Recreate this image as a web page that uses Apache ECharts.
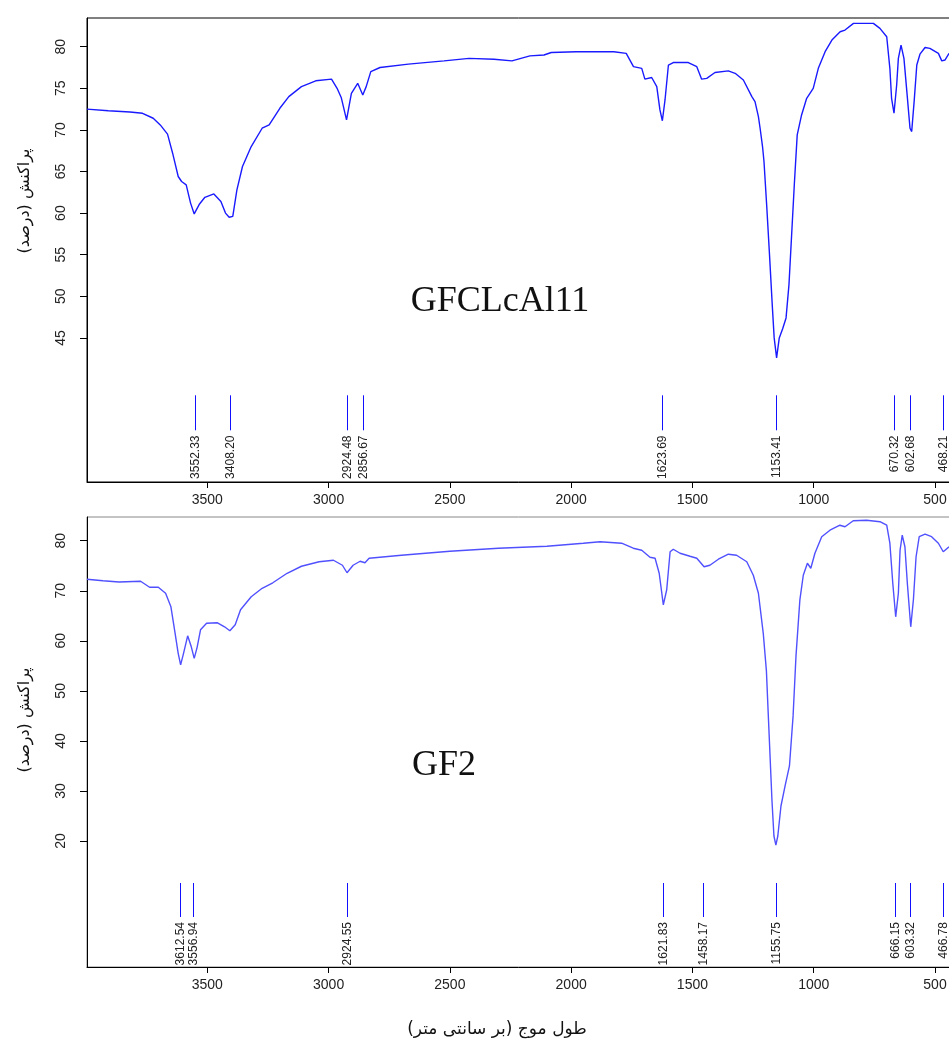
<!DOCTYPE html>
<html><head><meta charset="utf-8">
<script src="https://cdn.jsdelivr.net/npm/echarts@6/dist/echarts.min.js"></script>
<style>html,body{margin:0;padding:0;background:#fff}#c{width:949px;height:1045px}</style>
</head><body><div id="c"></div>
<script>
// ---- data ----
const xTicks = [3500, 3000, 2500, 2000, 1500, 1000, 500];
const topYTicks = [45, 50, 55, 60, 65, 70, 75, 80];
const botYTicks = [20, 30, 40, 50, 60, 70, 80];

const topWave = [3996,3908,3819,3767,3723,3694,3664,3643,3620,3606,3587,3569,3554,3532,3510,3473,3444,3425,3410,3395,3378,3355,3319,3274,3245,3201,3164,3112,3053,2988,2965,2948,2926,2906,2880,2859,2845,2826,2788,2671,2524,2421,2318,2244,2170,2112,2082,1979,1824,1773,1743,1709,1696,1668,1647,1634,1624,1613,1599,1579,1517,1482,1462,1441,1407,1352,1324,1290,1255,1242,1228,1221,1211,1205,1194,1183,1171,1163,1153,1142,1128,1114,1102,1091,1080,1068,1050,1029,1002,981,953,925,891,871,836,754,727,699,686,679,669,658,651,640,628,616,603,596,586,575,562,541,521,486,472,459,442];
const topTrans = [72.5,72.3,72.15,72.0,71.4,70.6,69.5,67.2,64.4,63.8,63.4,61.2,59.9,61.1,61.9,62.3,61.4,60.0,59.5,59.6,62.8,65.6,68.0,70.2,70.6,72.6,74.0,75.2,75.9,76.1,75.0,73.9,71.2,74.4,75.6,74.2,75.2,77.0,77.5,77.9,78.3,78.6,78.5,78.3,78.9,79.0,79.3,79.4,79.4,79.2,77.6,77.4,76.1,76.3,75.2,72.4,71.1,73.6,77.8,78.1,78.1,77.6,76.1,76.2,76.9,77.1,76.8,76.0,74.0,73.4,71.6,70.2,68.0,66.2,61.0,55.4,49.0,45.0,42.6,45.0,46.1,47.4,51.4,57.4,63.4,69.4,71.8,73.8,75.0,77.4,79.4,80.8,81.8,82.0,82.8,82.8,82.2,81.2,77.4,73.8,72.0,75.4,78.6,80.2,78.6,74.6,70.2,69.8,73.4,77.8,79.1,79.9,79.8,79.2,78.3,78.4,79.2];

const botWave = [3996,3930,3864,3775,3738,3702,3672,3650,3635,3620,3610,3598,3581,3566,3554,3542,3528,3503,3458,3429,3407,3385,3363,3319,3274,3230,3171,3112,3039,2980,2943,2924,2899,2870,2850,2833,2700,2500,2300,2100,1950,1881,1792,1744,1709,1675,1654,1637,1620,1606,1592,1579,1551,1510,1482,1452,1428,1393,1352,1318,1276,1249,1228,1208,1195,1188,1180,1172,1164,1156,1148,1135,1118,1100,1085,1073,1057,1043,1026,1012,995,967,933,892,871,837,782,727,699,686,674,662,651,644,635,624,614,600,589,578,565,541,514,486,466,442];
const botTrans = [72.3,72.0,71.75,71.9,70.7,70.7,69.5,66.8,62.2,57.5,55.2,57.5,61.0,58.8,56.5,58.7,62.2,63.5,63.6,62.8,62.0,63.2,66.2,68.8,70.5,71.6,73.5,74.9,75.8,76.1,75.1,73.6,75.1,75.9,75.6,76.5,77.1,77.9,78.5,78.9,79.5,79.8,79.5,78.5,78.1,76.7,76.5,73.5,67.2,70.2,77.8,78.3,77.5,76.9,76.5,74.8,75.1,76.3,77.3,77.1,75.8,73.1,69.5,61.5,54,46,37,28,21,19.2,21,27,31,35,45,57,68.2,73.1,75.5,74.5,77.5,80.8,82.1,83.1,82.8,84.0,84.1,83.8,83.1,79.5,71.5,64.8,69.5,78.1,81.1,78.8,71.5,62.8,68.2,76.8,80.8,81.3,80.8,79.5,77.8,78.8];

const topPeaks = [3552.33, 3408.20, 2924.48, 2856.67, 1623.69, 1153.41, 670.32, 602.68, 468.21];
const botPeaks = [3612.54, 3556.94, 2924.55, 1621.83, 1458.17, 1155.75, 666.15, 603.32, 466.78];

const topTitle = 'GFCLcAl11';
const botTitle = 'GF2';
const yName = 'پراکنش (درصد)';
const xName = 'طول موج (بر سانتی متر)';

// ---- chart ----
const chart = echarts.init(document.getElementById('c'), null, {renderer: 'canvas'});
const NARROW = "'Liberation Sans Narrow', 'Liberation Sans', Arial, sans-serif";

function pairs(w, t) { return w.map((v, i) => [v, t[i]]); }

function peakRender(lineTop, lineBot, textTop) {
  return function (params, api) {
    const cs = params.coordSys;
    const bottom = cs.y + cs.height;
    const v = api.value(0);
    const x = Math.round(api.coord([v, 50])[0]) + 0.5;
    return {
      type: 'group',
      children: [
        {type: 'line', shape: {x1: x, y1: bottom - lineTop, x2: x, y2: bottom - lineBot},
         style: {stroke: '#1010ff', lineWidth: 1}},
        {type: 'text', x: x, y: bottom - textTop, rotation: Math.PI / 2,
         style: {text: v.toFixed(2), align: 'right', verticalAlign: 'middle',
                 font: '12px ' + NARROW, fill: '#222'}}
      ]
    };
  };
}

function xAxisCfg(idx) {
  return {
    type: 'value', gridIndex: idx, inverse: true, min: 434, max: 3996,
    axisLine: {show: true, onZero: false, lineStyle: {color: '#000', width: 1}},
    axisTick: {show: true, length: 6, customValues: xTicks, lineStyle: {color: '#000'}},
    axisLabel: {show: true, customValues: xTicks, fontSize: 14, color: '#222', margin: 11,
                formatter: v => String(v),
                fontFamily: "'Liberation Sans', Arial, sans-serif"},
    splitLine: {show: false}
  };
}
function yAxisCfg(idx, min, max, ticks) {
  return {
    type: 'value', gridIndex: idx, min: min, max: max,
    axisLine: {show: true, onZero: false, lineStyle: {color: '#000', width: 1}},
    axisTick: {show: true, length: 7, customValues: ticks, lineStyle: {color: '#000'}},
    axisLabel: {show: true, customValues: ticks, rotate: 90, fontSize: 14, color: '#222', margin: 19,
                formatter: v => String(v), fontFamily: NARROW},
    splitLine: {show: false}
  };
}

const option = {
  backgroundColor: '#fff',
  animation: false,
  grid: [
    {left: 87, right: -2, top: 18, height: 464, show: true, borderColor: '#000', borderWidth: 1,
     backgroundColor: 'transparent', containLabel: false, outerBoundsMode: 'none'},
    {left: 87, right: -2, top: 517, height: 450, show: true, borderColor: '#888', borderWidth: 1,
     backgroundColor: 'transparent', containLabel: false, outerBoundsMode: 'none'}
  ],
  xAxis: [xAxisCfg(0), xAxisCfg(1)],
  yAxis: [yAxisCfg(0, 27.68, 83.45, topYTicks), yAxisCfg(1, -5.17, 84.74, botYTicks)],
  series: [
    {type: 'line', xAxisIndex: 0, yAxisIndex: 0, data: pairs(topWave, topTrans), showSymbol: false,
     lineStyle: {color: '#1a1aff', width: 1.4}, silent: true},
    {type: 'line', xAxisIndex: 1, yAxisIndex: 1, data: pairs(botWave, botTrans), showSymbol: false,
     lineStyle: {color: '#5050ff', width: 1.4}, silent: true},
    {type: 'custom', xAxisIndex: 0, yAxisIndex: 0, data: topPeaks.map(v => [v]), encode: {x: 0},
     renderItem: peakRender(86.7, 51.7, 46.5), silent: true, clip: false},
    {type: 'custom', xAxisIndex: 1, yAxisIndex: 1, data: botPeaks.map(v => [v]), encode: {x: 0},
     renderItem: peakRender(84, 50, 45), silent: true, clip: false}
  ],
  graphic: [
    {type: 'text', x: 500, y: 302, style: {text: topTitle, align: 'center', verticalAlign: 'middle',
      font: "36px 'Liberation Serif', 'Times New Roman', serif", fill: '#111'}},
    {type: 'text', x: 444, y: 766, style: {text: botTitle, align: 'center', verticalAlign: 'middle',
      font: "36px 'Liberation Serif', 'Times New Roman', serif", fill: '#111'}},
    {type: 'text', x: 25, y: 201, rotation: Math.PI / 2, style: {text: yName, align: 'center', verticalAlign: 'middle',
      font: "16px 'DejaVu Sans', sans-serif", fill: '#111'}},
    {type: 'text', x: 25, y: 720, rotation: Math.PI / 2, style: {text: yName, align: 'center', verticalAlign: 'middle',
      font: "16px 'DejaVu Sans', sans-serif", fill: '#111'}},
    {type: 'text', x: 497, y: 1030, style: {text: xName, align: 'center', verticalAlign: 'middle',
      font: "17px 'DejaVu Sans', sans-serif", fill: '#111'}}
  ]
};
chart.setOption(option);
</script>
</body></html>
